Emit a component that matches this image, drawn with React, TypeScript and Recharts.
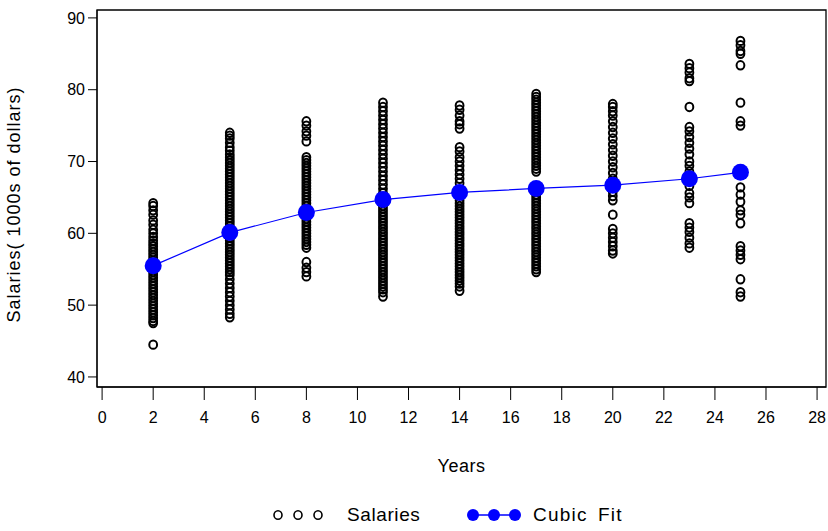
import { ComposedChart, Line, ReferenceArea, Scatter, XAxis, YAxis } from "recharts";

const years = [2, 5, 8, 11, 14, 17, 20, 23, 25];

const salaries2 = [
  64.2, 63.8, 63.2, 62.6, 61.8, 61.2, 60.5, 60.0, 59.5, 59.0, 58.6, 58.2, 57.8,
  57.4, 57.0, 56.6, 56.2, 55.8, 55.4, 55.0, 54.6, 54.2, 53.8, 53.4, 53.0, 52.6,
  52.2, 51.8, 51.4, 51.0, 50.6, 50.2, 49.8, 49.4, 49.0, 48.6, 48.2, 47.8, 47.5,
  44.5,
];
const salaries5 = [
  74.0, 73.6, 73.2, 72.6, 72.0, 71.5, 71.0, 70.6, 70.2, 69.8, 69.4, 69.0, 68.6,
  68.2, 67.8, 67.4, 67.0, 66.6, 66.2, 65.8, 65.4, 65.0, 64.6, 64.2, 63.8, 63.4,
  63.0, 62.6, 62.2, 61.8, 61.4, 61.0, 60.6, 59.8, 59.4, 59.0, 58.6, 58.2, 57.8,
  57.4, 57.0, 56.6, 56.2, 55.8, 55.4, 55.0, 54.6, 54.2, 53.6, 53.0, 52.4, 51.8,
  51.2, 50.6, 50.0, 49.4, 48.8, 48.3,
];
const salaries8 = [
  75.6, 75.0, 74.2, 73.6, 72.8, 70.6, 70.2, 69.8, 69.4, 69.0, 68.6, 68.2, 67.8,
  67.4, 67.0, 66.6, 66.2, 65.8, 65.4, 65.0, 64.6, 64.2, 63.8, 62.4, 62.0, 61.6,
  61.2, 60.8, 60.4, 60.0, 59.6, 59.2, 58.8, 58.4, 58.0, 56.0, 55.2, 54.6, 54.0,
];
const salaries11 = [
  78.2, 77.6, 77.0, 76.4, 75.8, 75.2, 74.6, 74.0, 73.4, 72.8, 72.2, 71.6, 71.0,
  70.4, 69.8, 69.2, 68.6, 68.0, 67.4, 66.8, 66.2, 65.6, 63.8, 63.4, 63.0, 62.6,
  62.2, 61.8, 61.4, 61.0, 60.6, 60.2, 59.8, 59.4, 59.0, 58.6, 58.2, 57.8, 57.4,
  57.0, 56.6, 56.2, 55.8, 55.4, 55.0, 54.6, 54.2, 53.8, 53.4, 53.0, 52.6, 52.2,
  51.8, 51.2,
];
const salaries14 = [
  77.8, 77.2, 76.4, 75.6, 75.2, 74.6, 72.0, 71.4, 70.6, 70.0, 69.4, 68.8, 68.2,
  67.6, 67.0, 64.6, 64.2, 63.8, 63.4, 63.0, 62.6, 62.2, 61.8, 61.4, 61.0, 60.6,
  60.2, 59.8, 59.4, 59.0, 58.6, 58.2, 57.8, 57.4, 57.0, 56.6, 56.2, 55.8, 55.4,
  55.0, 54.6, 54.2, 53.8, 53.4, 53.0, 52.6, 52.0,
];
const salaries17 = [
  79.4, 79.0, 78.6, 78.2, 77.8, 77.4, 77.0, 76.6, 76.2, 75.8, 75.4, 75.0, 74.6,
  74.2, 73.8, 73.4, 73.0, 72.6, 72.2, 71.8, 71.4, 71.0, 70.6, 70.2, 69.8, 69.4,
  69.0, 68.6, 65.4, 65.0, 64.6, 64.2, 63.8, 63.4, 63.0, 62.6, 62.2, 61.8, 61.4,
  61.0, 60.6, 60.2, 59.8, 59.4, 59.0, 58.6, 58.2, 57.8, 57.4, 57.0, 56.6, 56.2,
  55.8, 55.4, 55.0, 54.6,
];
const salaries20 = [
  78.0, 77.6, 77.0, 76.4, 75.6, 74.8, 74.0, 73.2, 72.4, 71.6, 70.8, 70.0, 69.2,
  68.4, 67.6, 65.8, 65.2, 64.6, 62.6, 60.6, 60.0, 59.4, 58.8, 58.2, 57.6, 57.2,
];
const salaries23 = [
  83.6, 83.0, 82.4, 81.6, 81.2, 77.6, 74.8, 74.2, 73.4, 72.6, 71.8, 71.0, 70.0,
  69.4, 68.6, 66.6, 65.6, 65.0, 64.2, 61.4, 60.8, 60.2, 59.4, 58.6, 58.0,
];
const salaries25 = [
  86.8, 86.2, 85.4, 85.0, 83.4, 78.2, 75.6, 75.0, 66.4, 65.4, 64.4, 63.2, 62.6,
  61.4, 58.2, 57.6, 57.0, 56.4, 53.6, 51.8, 51.2,
];

const salaryColumns = [
  salaries2, salaries5, salaries8, salaries11, salaries14,
  salaries17, salaries20, salaries23, salaries25,
];

const cubicFit = [55.5, 60.1, 62.9, 64.7, 65.7, 66.25, 66.7, 67.6, 68.5];

const xTicks = [0, 2, 4, 6, 8, 10, 12, 14, 16, 18, 20, 22, 24, 26, 28];
const yTicks = [40, 50, 60, 70, 80, 90];

const salaryPoints = salaryColumns.flatMap((col, i) =>
  col.map((y) => ({ x: years[i], y }))
);
const fitPoints = years.map((x, i) => ({ x, y: cubicFit[i] }));

const X_DOMAIN: [number, number] = [-0.2, 28.35];
const Y_DOMAIN: [number, number] = [38.6, 91.1];
const FONT = "'Liberation Sans', Arial, sans-serif";

function OpenCircle(props: any) {
  const { cx, cy } = props;
  if (cx == null || cy == null) return null;
  return (
    <ellipse cx={cx} cy={cy} rx={3.9} ry={4.2} fill="none" stroke="#000" strokeWidth={2} />
  );
}

function FitDot(props: any) {
  const { cx, cy } = props;
  if (cx == null || cy == null) return null;
  return <circle cx={cx} cy={cy} r={8.5} fill="#0000ff" />;
}

const legendText = {
  position: "absolute" as const,
  top: 505,
  fontFamily: FONT,
  fontSize: 19,
  color: "#000",
  lineHeight: "20px",
};

function Legend() {
  return (
    <>
      <svg width={60} height={20} style={{ position: "absolute", left: 268, top: 505 }}>
        {[10, 30, 50].map((cx) => (
          <ellipse key={cx} cx={cx} cy={10} rx={4} ry={4.3} fill="none" stroke="#000" strokeWidth={1.6} />
        ))}
      </svg>
      <span style={{ ...legendText, left: 347, letterSpacing: 0.6 }}>Salaries</span>
      <svg width={56} height={20} style={{ position: "absolute", left: 466, top: 505 }}>
        <line x1={6} y1={10} x2={50} y2={10} stroke="#0000ff" strokeWidth={1.5} />
        {[7, 28, 49].map((cx) => (
          <circle key={cx} cx={cx} cy={10} r={6} fill="#0000ff" />
        ))}
      </svg>
      <span style={{ ...legendText, left: 533, letterSpacing: 1.2, wordSpacing: 4 }}>Cubic Fit</span>
    </>
  );
}

export default function App() {
  return (
    <div style={{ position: "absolute", left: 0, top: 0, width: 828, height: 531, background: "#fff" }}>
      <ComposedChart
        width={828}
        height={531}
        margin={{ top: 10, right: 2, bottom: 44, left: 0 }}
      >
        <XAxis
          xAxisId="b"
          type="number"
          dataKey="x"
          domain={X_DOMAIN}
          ticks={xTicks}
          interval={0}
          height={100}
          stroke="#000"
          tickSize={13}
          tickMargin={12}
          tick={{ fill: "#000", fontSize: 16, fontFamily: FONT }}
          label={{ value: "Years", position: "insideTop", offset: 72, fill: "#000", fontSize: 18, fontFamily: FONT, letterSpacing: 0.5 }}
          allowDataOverflow
        />
        <YAxis
          yAxisId="l"
          type="number"
          dataKey="y"
          domain={Y_DOMAIN}
          ticks={yTicks}
          interval={0}
          width={97}
          stroke="#000"
          tickSize={9}
          tickMargin={3}
          tick={{ fill: "#000", fontSize: 16, fontFamily: FONT }}
          label={{ value: "Salaries( 1000s of dollars)", angle: -90, position: "insideLeft", offset: 14, dy: 6, fill: "#000", fontSize: 18, fontFamily: FONT, letterSpacing: 1, style: { textAnchor: "middle" } }}
          allowDataOverflow
        />
        <ReferenceArea
          xAxisId="b"
          yAxisId="l"
          x1={X_DOMAIN[0]}
          x2={X_DOMAIN[1]}
          y1={Y_DOMAIN[0]}
          y2={Y_DOMAIN[1]}
          fill="none"
          fillOpacity={0}
          stroke="#000"
          strokeWidth={1.3}
          strokeOpacity={1}
          ifOverflow="visible"
        />
        <Scatter
          xAxisId="b"
          yAxisId="l"
          data={salaryPoints}
          shape={<OpenCircle />}
          isAnimationActive={false}
        />
        <Line
          xAxisId="b"
          yAxisId="l"
          data={fitPoints}
          dataKey="y"
          type="linear"
          stroke="#0000ff"
          strokeWidth={1.2}
          dot={<FitDot />}
          activeDot={false}
          isAnimationActive={false}
        />
      </ComposedChart>
      <Legend />
    </div>
  );
}
